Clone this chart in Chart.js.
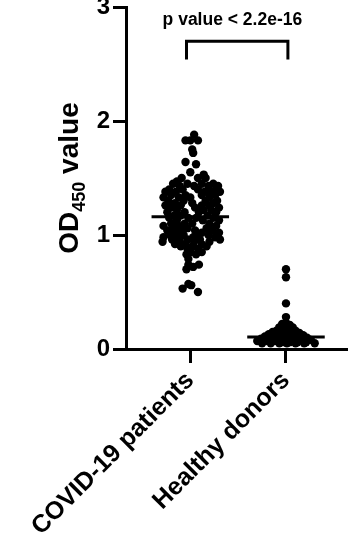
<!DOCTYPE html>
<html lang="en">
<head>
  <meta charset="UTF-8">
  <title>OD450 COVID-19 vs healthy donors</title>
  <script src="https://cdn.jsdelivr.net/npm/chart.js"></script>
  <style>
    body {
      margin: 0;
      padding: 0;
      background-color: #fff;
    }
    #chart {
      display: block;
    }
  </style>
</head>
<body>
  <canvas id="chart" width="352" height="545"></canvas>

  <script>
    // Values
    const categories = ['COVID-19 patients', 'Healthy donors'];
    const yTicks = [0, 1, 2, 3];
    const groupMeans = [1.16, 0.105];
    const pValueText = 'p value < 2.2e-16';

    // COVID-19 patients: OD450 value and beeswarm offset from the category centre
    const covidValues = [
      1.88,
      1.83, 1.83, 1.83,
      1.75, 1.72, 1.64, 1.62, 1.55, 1.53,
      1.50, 1.50, 1.50,
      1.47,
      1.45, 1.45, 1.45, 1.45,
      1.43, 1.43, 1.43, 1.43,
      1.40, 1.40, 1.40, 1.40,
      1.38, 1.38, 1.38, 1.38, 1.38,
      1.35, 1.35, 1.35, 1.35,
      1.33, 1.33, 1.33, 1.33,
      1.30, 1.30, 1.30, 1.30,
      1.28, 1.28, 1.28,
      1.26, 1.26, 1.26, 1.26,
      1.24, 1.24, 1.24,
      1.22, 1.22, 1.22,
      1.20, 1.20, 1.20, 1.20,
      1.17, 1.17, 1.17,
      1.15, 1.15, 1.15, 1.15,
      1.13, 1.13, 1.13,
      1.10, 1.10, 1.10, 1.10,
      1.08, 1.08, 1.08,
      1.06, 1.06, 1.06,
      1.04, 1.04, 1.04, 1.04,
      1.02, 1.02, 1.02,
      1.00, 1.00, 1.00, 1.00,
      0.98, 0.98, 0.98, 0.98,
      0.96, 0.96, 0.96, 0.96,
      0.94, 0.94, 0.94, 0.94,
      0.92, 0.92, 0.92,
      0.90, 0.90, 0.90,
      0.88, 0.88,
      0.85, 0.85,
      0.83, 0.83,
      0.79, 0.74, 0.74, 0.72, 0.70,
      0.57, 0.56, 0.53, 0.50
    ];
    const covidOffsets = [
      0.04,
      -0.05, 0.00, 0.08,
      0.02, 0.03, -0.05, 0.06, 0.00, 0.14,
      -0.09, 0.08, 0.16,
      -0.14,
      -0.18, -0.03, 0.12, 0.24,
      -0.11, 0.04, 0.19, 0.29,
      -0.22, -0.08, 0.08, 0.27,
      -0.26, -0.15, 0.15, 0.22, 0.31,
      -0.20, -0.05, 0.12, 0.26,
      -0.28, -0.12, 0.00, 0.20,
      -0.23, -0.07, 0.16, 0.28,
      -0.16, 0.02, 0.24,
      -0.26, -0.10, 0.12, 0.20,
      -0.20, 0.05, 0.30,
      -0.14, 0.14, 0.22,
      -0.24, -0.06, 0.09, 0.27,
      -0.17, -0.10, 0.18,
      -0.22, -0.02, 0.06, 0.24,
      -0.14, 0.13, 0.30,
      -0.20, -0.06, 0.02, 0.20,
      -0.28, -0.12, 0.27,
      -0.18, -0.03, 0.17,
      -0.24, -0.09, 0.05, 0.23,
      -0.15, 0.12, 0.30,
      -0.21, -0.07, 0.08, 0.19,
      -0.28, -0.13, 0.03, 0.26,
      -0.19, -0.03, 0.10, 0.31,
      -0.29, -0.11, 0.04, 0.20,
      -0.16, -0.05, 0.12,
      -0.10, 0.02, 0.17,
      -0.03, 0.08,
      0.00, 0.12,
      -0.04, 0.06,
      -0.02, -0.02, 0.09, 0.03, -0.04,
      -0.02, 0.01, -0.08, 0.08
    ];

    // Healthy donors
    const healthyValues = [
      0.70, 0.63, 0.40, 0.28,
      0.23, 0.22, 0.21,
      0.19, 0.19, 0.17, 0.17,
      0.16, 0.16,
      0.15, 0.15, 0.15, 0.14,
      0.13, 0.13, 0.13, 0.13, 0.12,
      0.11, 0.11, 0.11, 0.11, 0.11, 0.10,
      0.09, 0.09, 0.09, 0.09, 0.09, 0.09, 0.08,
      0.07, 0.07, 0.07, 0.06, 0.06, 0.06, 0.06, 0.05,
      0.05, 0.05, 0.05, 0.05, 0.05, 0.05
    ];
    const healthyOffsets = [
      0.00, 0.00, 0.00, 0.00,
      0.00, -0.04, 0.04,
      -0.07, 0.07, -0.02, 0.02,
      -0.10, 0.10,
      -0.14, -0.05, 0.05, 0.14,
      -0.18, -0.09, 0.00, 0.09, 0.18,
      -0.22, -0.13, -0.04, 0.04, 0.13, 0.22,
      -0.26, -0.17, -0.08, 0.00, 0.08, 0.17, 0.26,
      -0.30, -0.21, -0.12, -0.04, 0.04, 0.12, 0.21, 0.30,
      -0.25, -0.16, -0.07, 0.01, 0.10, 0.19
    ];

    // p value bracket (x from category 1 to 2, y in OD units)
    const bracketX = [0.96, 0.96, 2.02, 2.02];
    const bracketY = [2.54, 2.70, 2.70, 2.54];

    const fontFamily = "'Liberation Sans', Arial, Helvetica, sans-serif";

    function toPoints(center, values, offsets) {
      return values.map((v, i) => ({ x: center + offsets[i], y: v }));
    }

    function meanLine(center, value) {
      return [{ x: center - 0.405, y: value }, { x: center + 0.405, y: value }];
    }

    // Draws the y title with a real subscript and the p value above the bracket
    const textPlugin = {
      id: 'textPlugin',
      afterDraw(chart) {
        const ctx = chart.ctx;
        const area = chart.chartArea;
        const xs = chart.scales.x;
        const ys = chart.scales.y;

        ctx.save();
        ctx.fillStyle = '#000';
        ctx.textBaseline = 'alphabetic';
        ctx.textAlign = 'center';
        ctx.font = 'bold 17.5px ' + fontFamily;
        ctx.fillText(pValueText, xs.getPixelForValue(1.44), ys.getPixelForValue(2.84));
        ctx.restore();

        // y axis title: OD450 value, 450 as subscript
        const mainFont = 'bold 28px ' + fontFamily;
        const subFont = 'bold 18px ' + fontFamily;
        ctx.save();
        ctx.font = mainFont;
        const wOD = ctx.measureText('OD').width;
        const wVal = ctx.measureText(' value').width;
        ctx.font = subFont;
        const wSub = ctx.measureText('450').width;
        const total = wOD + wSub + wVal;
        const cy = (area.top + area.bottom) / 2;
        ctx.translate(78, cy + total / 2);
        ctx.rotate(-Math.PI / 2);
        ctx.fillStyle = '#000';
        ctx.textAlign = 'left';
        ctx.textBaseline = 'alphabetic';
        ctx.font = mainFont;
        ctx.fillText('OD', 0, 0);
        ctx.font = subFont;
        ctx.fillText('450', wOD, 7);
        ctx.font = mainFont;
        ctx.fillText(' value', wOD + wSub, 0);
        ctx.restore();
      }
    };

    const ctx = document.getElementById('chart').getContext('2d');
    const chart = new Chart(ctx, {
      type: 'scatter',
      data: {
        datasets: [{
          data: toPoints(1, covidValues, covidOffsets),
          backgroundColor: '#000',
          pointRadius: 4.2,
          pointBorderWidth: 0
        }, {
          data: toPoints(2, healthyValues, healthyOffsets),
          backgroundColor: '#000',
          pointRadius: 4.2,
          pointBorderWidth: 0
        }, {
          data: meanLine(1, groupMeans[0]),
          showLine: true,
          borderColor: '#000',
          borderWidth: 3,
          pointRadius: 0
        }, {
          data: meanLine(2, groupMeans[1]),
          showLine: true,
          borderColor: '#000',
          borderWidth: 3,
          pointRadius: 0
        }, {
          data: bracketX.map((x, i) => ({ x: x, y: bracketY[i] })),
          showLine: true,
          borderColor: '#000',
          borderWidth: 3,
          borderCapStyle: 'butt',
          borderJoinStyle: 'miter',
          pointRadius: 0
        }]
      },
      options: {
        responsive: false,
        animation: false,
        devicePixelRatio: 1,
        layout: {
          padding: { top: 7, right: 0, bottom: 0, left: 0 }
        },
        plugins: {
          legend: { display: false },
          tooltip: { enabled: false }
        },
        scales: {
          x: {
            type: 'linear',
            min: 0.328,
            max: 2.646,
            afterBuildTicks: (scale) => {
              scale.ticks = categories.map((c, i) => ({ value: i + 1 }));
            },
            afterFit: (scale) => {
              scale.height = 196;
              scale.paddingLeft = 0;
              scale.paddingRight = 0;
            },
            ticks: {
              autoSkip: false,
              minRotation: 45,
              maxRotation: 45,
              padding: 3,
              color: '#000',
              font: { family: fontFamily, size: 25, weight: 'bold' },
              callback: (value) => categories[Math.round(value) - 1]
            },
            grid: {
              drawOnChartArea: false,
              tickLength: 14,
              tickWidth: 3,
              tickColor: '#000'
            },
            border: { color: '#000', width: 3 }
          },
          y: {
            min: 0,
            max: 3,
            afterBuildTicks: (scale) => {
              scale.ticks = yTicks.map(v => ({ value: v }));
            },
            afterFit: (scale) => {
              scale.width = 126;
              scale.paddingTop = 0;
              scale.paddingBottom = 0;
            },
            ticks: {
              padding: 3,
              color: '#000',
              font: { family: fontFamily, size: 24, weight: 'bold' }
            },
            grid: {
              drawOnChartArea: false,
              tickLength: 13,
              tickWidth: 3,
              tickColor: '#000'
            },
            border: { color: '#000', width: 3 }
          }
        }
      },
      plugins: [textPlugin]
    });
  </script>
</body>
</html>
